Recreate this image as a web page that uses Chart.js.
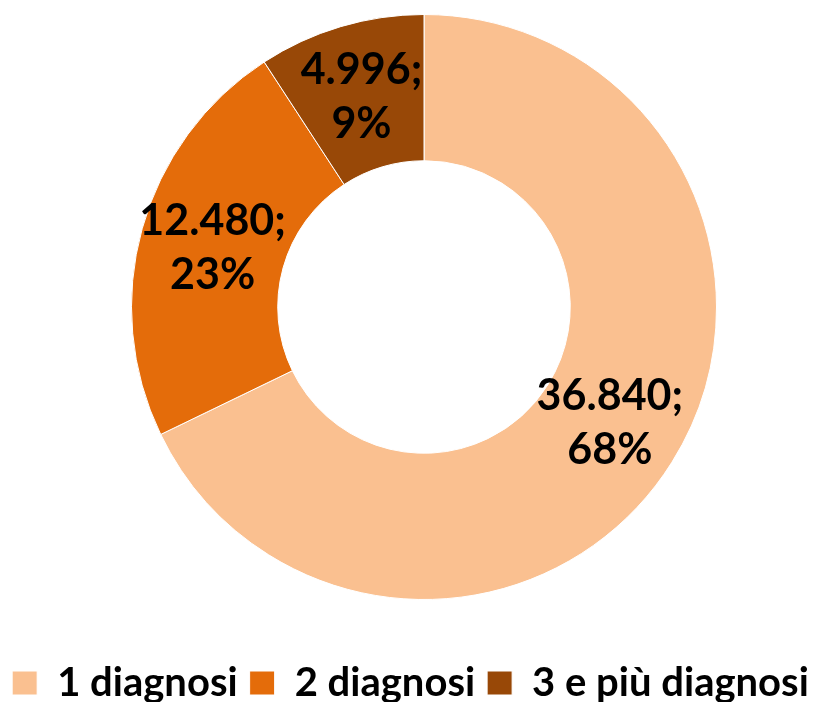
<!DOCTYPE html>
<html>
<head>
<meta charset="utf-8">
<script src="https://cdn.jsdelivr.net/npm/chart.js@4.4.1/dist/chart.umd.min.js"></script>
<style>
  html, body { margin: 0; padding: 0; background: #ffffff; }
  #wrap { width: 821px; height: 702px; position: relative; }
</style>
</head>
<body>
<div id="wrap"><canvas id="c" width="821" height="702"></canvas></div>
<script>
const categories = ['1 diagnosi', '2 diagnosi', '3 e più diagnosi'];
const values = [36840, 12480, 4996];
const colors = ['#FAC090', '#E46C0A', '#984807'];

function fmtThousands(n) {
  return String(n).replace(/\B(?=(\d{3})+(?!\d))/g, '.');
}

const placePlugin = {
  id: 'place',
  afterLayout(chart) {
    // leave a gap between the ring and the legend, and shift the ring right
    const ca = chart.chartArea;
    ca.left += 27;
    ca.bottom = chart.legend.top - 40;
    ca.width = ca.right - ca.left;
    ca.height = ca.bottom - ca.top;
    chart.legend.top += 11;
    chart.legend.bottom += 11;
  }
};

const labelPlugin = {
  id: 'sliceLabels',
  afterDatasetsDraw(chart) {
    const ctx = chart.ctx;
    const meta = chart.getDatasetMeta(0);
    const data = chart.data.datasets[0].data;
    const total = data.reduce((a, b) => a + b, 0);
    ctx.save();
    ctx.font = 'bold 43px Lato';
    ctx.fillStyle = '#000000';
    ctx.textAlign = 'center';
    ctx.textBaseline = 'middle';
    meta.data.forEach((arc, i) => {
      const p = arc.tooltipPosition();
      const pct = Math.round(data[i] / total * 100);
      ctx.fillText(fmtThousands(data[i]) + ';', p.x, p.y - 27);
      ctx.fillText(pct + '%', p.x, p.y + 27);
    });
    ctx.restore();
  }
};

new Chart(document.getElementById('c'), {
  type: 'doughnut',
  data: {
    labels: categories,
    datasets: [{
      data: values,
      backgroundColor: colors,
      borderColor: '#ffffff',
      borderWidth: 1
    }]
  },
  options: {
    responsive: false,
    animation: false,
    cutout: '50%',
    layout: { padding: { top: 14, bottom: 0, left: 0, right: 0 } },
    plugins: {
      legend: {
        position: 'bottom',
        labels: {
          font: { family: 'Lato', size: 40, weight: 'bold' },
          color: '#000000',
          boxWidth: 25,
          boxHeight: 24,
          padding: 12
        }
      },
      tooltip: { enabled: false }
    }
  },
  plugins: [placePlugin, labelPlugin]
});
</script>
</body>
</html>
